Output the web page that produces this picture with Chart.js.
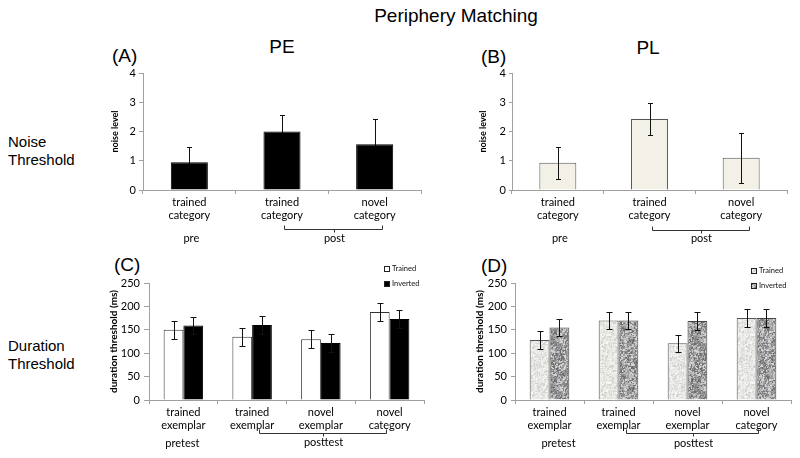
<!DOCTYPE html>
<html><head><meta charset="utf-8">
<script src="https://cdn.jsdelivr.net/npm/chart.js@4/dist/chart.umd.min.js"></script>
<style>
html,body{margin:0;padding:0;background:#fff;width:800px;height:458px;overflow:hidden;position:relative;}
.t{position:absolute;white-space:nowrap;font-family:"Liberation Sans",Arial,sans-serif;color:#000;}
.cc{transform:translate(-50%,-50%);}
.lc{transform:translate(0,-50%);}
canvas{position:absolute;}
</style></head><body>
<div class="t cc" style="left:456px;top:16px;font-size:19px;">Periphery Matching</div>
<div class="t cc" style="left:282px;top:47px;font-size:19px;">PE</div>
<div class="t cc" style="left:648px;top:48px;font-size:19px;">PL</div>
<div class="t lc" style="left:112px;top:56px;font-size:19px;">(A)</div>
<div class="t lc" style="left:481px;top:57px;font-size:19px;">(B)</div>
<div class="t lc" style="left:114px;top:265px;font-size:19px;">(C)</div>
<div class="t lc" style="left:481px;top:266px;font-size:19px;">(D)</div>
<div class="t lc" style="left:8px;top:150px;font-size:15px;line-height:17.5px;">Noise<br>Threshold</div>
<div class="t lc" style="left:8px;top:354px;font-size:15px;line-height:17.5px;">Duration<br>Threshold</div>

<canvas id="cA" width="334" height="190" style="left:106px;top:60px;"></canvas>
<canvas id="cB" width="326" height="190" style="left:474px;top:60px;"></canvas>
<canvas id="cC" width="336" height="193" style="left:104px;top:265px;"></canvas>
<canvas id="cD" width="330" height="193" style="left:470px;top:265px;"></canvas>

<script>
// ---------- data ----------
const noiseCategories = [["trained","category"],["trained","category"],["novel","category"]];
const noiseTicks = [0,1,2,3,4];
const noiseGroupLabels = ["pre","post"];
const noisePE = [0.95, 2.0, 1.56];
const noisePEErr = [0.53, 0.56, 0.87];
const noisePL = [0.93, 2.43, 1.1];
const noisePLErr = [0.55, 0.55, 0.86];

const durationCategories = [["trained","exemplar"],["trained","exemplar"],["novel","exemplar"],["novel","category"]];
const durationTicks = [0,50,100,150,200,250];
const durationGroupLabels = ["pretest","posttest"];
const seriesNames = ["Trained","Inverted"];
const durPETrained = [150, 135, 130, 188];
const durPETrainedErr = [18.6, 19, 19, 19];
const durPEInverted = [159, 160, 122, 173];
const durPEInvertedErr = [18.6, 19, 18.5, 19];
const durPLTrained = [128, 170, 121, 175];
const durPLTrainedErr = [19, 19, 18.5, 19];
const durPLInverted = [155, 170, 169, 175];
const durPLInvertedErr = [18.5, 19, 19, 19];

// ---------- styling helpers ----------
const AX = '#a0a0a0';
const FONT = 'Lato';

function speckle(base, colors, density, seed){
  const N = 48;
  const c = document.createElement('canvas'); c.width = N; c.height = N;
  const g = c.getContext('2d'); g.fillStyle = base; g.fillRect(0,0,N,N);
  let s = seed >>> 0;
  const rnd = () => { s = (Math.imul(s, 1103515245) + 12345) >>> 0; return s / 4294967296; };
  const n = Math.floor(N*N*density);
  for (let i=0;i<n;i++){
    const x = Math.floor(rnd()*N), y = Math.floor(rnd()*N);
    g.fillStyle = colors[Math.floor(rnd()*colors.length)];
    g.fillRect(x, y, 1+Math.floor(rnd()*2), 1+Math.floor(rnd()*2));
  }
  return g.createPattern(c, 'repeat');
}
const lightPattern = speckle('#ebebe7', ['#d9d9d5','#f7f7f5','#e0e0dc','#d2d2ce'], 0.3, 7);
const darkPattern = speckle('#9c9c9c', ['#7c7c7c','#c4c4c4','#888888','#b2b2b2','#6e6e6e','#d4d4d4'], 0.65, 13);

function drawErr(chart){
  const ctx = chart.ctx, y = chart.scales.y;
  const cap = (chart.options.plugins.errorBars || {}).cap || 3;
  chart.data.datasets.forEach((ds, di) => {
    if (!ds.errors) return;
    chart.getDatasetMeta(di).data.forEach((bar, i) => {
      const v = ds.data[i], e = ds.errors[i];
      const x = Math.round(bar.x) + 0.5;
      const yt = Math.round(y.getPixelForValue(v + e)) + 0.5;
      const yb = Math.round(y.getPixelForValue(v - e)) + 0.5;
      ctx.save();
      ctx.strokeStyle = '#111'; ctx.lineWidth = 1;
      ctx.beginPath();
      ctx.moveTo(x, yt); ctx.lineTo(x, yb);
      ctx.moveTo(x-cap, yt); ctx.lineTo(x+cap, yt);
      ctx.moveTo(x-cap, yb); ctx.lineTo(x+cap, yb);
      ctx.stroke(); ctx.restore();
    });
  });
}
const errorBars = {
  id: 'errorBars',
  beforeDatasetsDraw(chart){ if ((chart.options.plugins.errorBars||{}).behind) drawErr(chart); },
  afterDatasetsDraw(chart){ if (!(chart.options.plugins.errorBars||{}).behind) drawErr(chart); }
};

const groupAnnot = {
  id: 'groupAnnot',
  afterDraw(chart){
    const o = chart.options.plugins.groupAnnot;
    if (!o) return;
    const ctx = chart.ctx, xs = chart.scales.x, bottom = chart.chartArea.bottom;
    const n = chart.data.labels.length;
    ctx.save();
    ctx.font = '11px ' + FONT; ctx.fillStyle = '#000';
    ctx.textAlign = 'center'; ctx.textBaseline = 'middle';
    ctx.fillText(o.labels[0], xs.getPixelForValue(0) + o.preOff, bottom + o.preY);
    const x1 = Math.round(xs.getPixelForValue(1) + o.fromOff) + 0.5;
    const x2 = Math.round(xs.getPixelForValue(n-1) + o.toOff) + 0.5;
    const ly = Math.round(bottom + o.lineY) + 0.5;
    const xm = Math.round((x1 + x2) / 2) + 0.5;
    ctx.strokeStyle = '#333'; ctx.lineWidth = 1;
    ctx.beginPath();
    ctx.moveTo(x1, ly - 4); ctx.lineTo(x1, ly); ctx.lineTo(x2, ly); ctx.lineTo(x2, ly - 4);
    ctx.moveTo(xm, ly); ctx.lineTo(xm, ly + 3);
    ctx.stroke();
    ctx.fillText(o.labels[1], xm, bottom + o.postY);
    ctx.restore();
  }
};

const miniLegend = {
  id: 'miniLegend',
  afterDraw(chart){
    const o = chart.options.plugins.miniLegend;
    if (!o) return;
    const ctx = chart.ctx, ca = chart.chartArea;
    ctx.save();
    ctx.font = '7.5px ' + FONT; ctx.textBaseline = 'middle'; ctx.textAlign = 'left';
    chart.data.datasets.forEach((ds, i) => {
      const x = Math.round(ca.right + o.dx), y = Math.round(ca.top + o.dy + i*15);
      ctx.fillStyle = ds.backgroundColor;
      ctx.fillRect(x, y - 3, 5, 5);
      ctx.strokeStyle = '#222'; ctx.lineWidth = 1;
      ctx.strokeRect(x + 0.5, y - 2.5, 5, 5);
      ctx.fillStyle = '#111';
      ctx.fillText(ds.label, x + 8, y);
    });
    ctx.restore();
  }
};

function makeChart(id, cfg){
  const {labels, datasets, ticks, yTitle, titleSize, yw, xh, padTop, padRight,
         catPct, tickLen, tickPad, annot, legend, cap, behind} = cfg;
  return new Chart(document.getElementById(id), {
    type: 'bar',
    data: { labels, datasets },
    plugins: [errorBars, groupAnnot, miniLegend],
    options: {
      responsive: false, animation: false, events: [],
      layout: { padding: { top: padTop, right: padRight, left: 0, bottom: 0 } },
      datasets: { bar: { categoryPercentage: catPct, barPercentage: 1.0 } },
      plugins: {
        legend: { display: false }, tooltip: { enabled: false },
        errorBars: { cap, behind: !!behind }, groupAnnot: annot, miniLegend: legend
      },
      scales: {
        x: {
          grid: { display: true, drawOnChartArea: false, tickLength: 4, color: AX, offset: true },
          border: { display: true, color: AX },
          ticks: { font: { family: FONT, size: 11, lineHeight: 1.18 }, color: '#000', padding: 2, maxRotation: 0, autoSkip: false },
          afterFit(s){ s.height = xh; }
        },
        y: {
          min: ticks[0], max: ticks[ticks.length-1],
          grid: { display: true, drawOnChartArea: false, tickLength: tickLen, color: AX },
          border: { display: true, color: AX },
          ticks: { font: { family: FONT, size: 11 }, color: '#000', padding: tickPad },
          title: { display: true, text: yTitle, color: '#000',
                   font: { family: FONT, size: titleSize, weight: 'bold' }, padding: { top: 4, bottom: 0 } },
          afterBuildTicks(s){ s.ticks = ticks.map(v => ({ value: v })); },
          afterFit(s){ s.width = yw; }
        }
      }
    }
  });
}

// (A) PE noise
makeChart('cA', {
  labels: noiseCategories,
  datasets: [{ data: noisePE, errors: noisePEErr, backgroundColor: '#000', borderColor: '#000', borderWidth: 1 }],
  ticks: noiseTicks, yTitle: 'noise level', titleSize: 9, yw: 37, xh: 60, padTop: 13, padRight: 19,
  catPct: 0.4, tickLen: 4, tickPad: 3, cap: 2.5, behind: true,
  annot: { labels: noiseGroupLabels, preOff: 2, preY: 48, fromOff: 2, toOff: 7, lineY: 39, postY: 48 }
});
// (B) PL noise
makeChart('cB', {
  labels: noiseCategories,
  datasets: [{ data: noisePL, errors: noisePLErr, backgroundColor: '#f3f0e8', borderColor: '#555', borderWidth: 1 }],
  ticks: noiseTicks, yTitle: 'noise level', titleSize: 9, yw: 38, xh: 60, padTop: 13, padRight: 13,
  catPct: 0.403, tickLen: 3, tickPad: 3, cap: 2.5,
  annot: { labels: noiseGroupLabels, preOff: 2, preY: 48, fromOff: 2, toOff: 8, lineY: 40, postY: 48 }
});
// (C) PE duration
makeChart('cC', {
  labels: durationCategories,
  datasets: [
    { label: seriesNames[0], data: durPETrained, errors: durPETrainedErr, backgroundColor: '#fff', borderColor: '#333', borderWidth: 1 },
    { label: seriesNames[1], data: durPEInverted, errors: durPEInvertedErr, backgroundColor: '#000', borderColor: '#000', borderWidth: 1 }
  ],
  ticks: durationTicks, yTitle: 'duration threshold (ms)', titleSize: 10, yw: 45, xh: 58, padTop: 18, padRight: 16,
  catPct: 0.574, tickLen: 5, tickPad: 4, cap: 3,
  annot: { labels: durationGroupLabels, preOff: -1, preY: 43, fromOff: 7, toOff: -4, lineY: 33, postY: 42 },
  legend: { dx: -40, dy: -14 }
});
// (D) PL duration
makeChart('cD', {
  labels: durationCategories,
  datasets: [
    { label: seriesNames[0], data: durPLTrained, errors: durPLTrainedErr, backgroundColor: lightPattern, borderColor: '#555', borderWidth: 1 },
    { label: seriesNames[1], data: durPLInverted, errors: durPLInvertedErr, backgroundColor: darkPattern, borderColor: '#444', borderWidth: 1 }
  ],
  ticks: durationTicks, yTitle: 'duration threshold (ms)', titleSize: 10, yw: 45, xh: 58, padTop: 18, padRight: 9,
  catPct: 0.574, tickLen: 4, tickPad: 4, cap: 3,
  annot: { labels: durationGroupLabels, preOff: 9, preY: 43, fromOff: 7, toOff: 1, lineY: 33, postY: 43 },
  legend: { dx: -40, dy: -12 }
});
</script>
</body></html>
